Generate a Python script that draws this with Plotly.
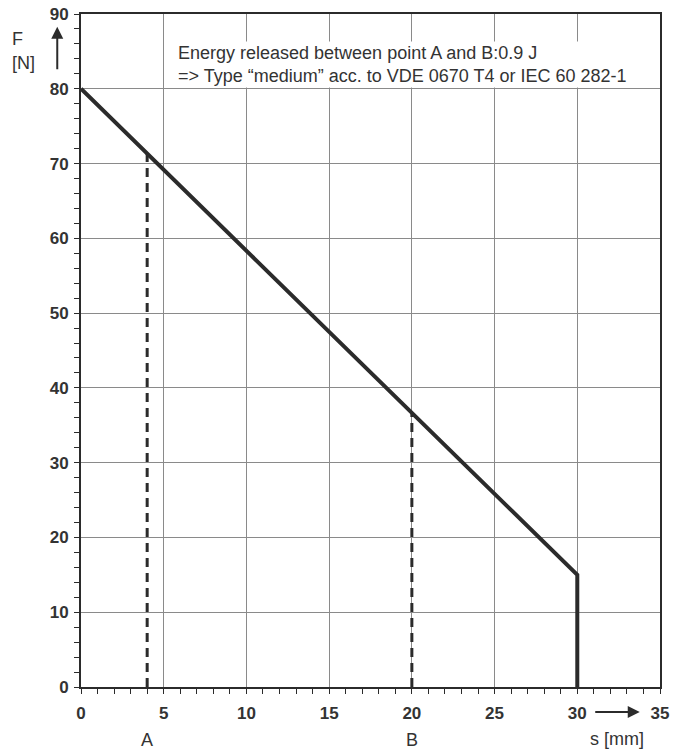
import plotly.graph_objects as go

# Data
curve_s = [0, 30, 30]          # mm
curve_F = [80, 15, 0]          # N
point_labels = ["A", "B"]
point_s = [4, 20]
point_F = [71.3, 36.7]
x_ticks = [0, 5, 10, 15, 20, 25, 30, 35]
y_ticks = [0, 10, 20, 30, 40, 50, 60, 70, 80, 90]
note_lines = ["Energy released between point A and B:0.9 J",
              "=> Type \u201cmedium\u201d acc. to VDE 0670 T4 or IEC 60 282-1"]

DARK = "#2b2b2b"
GRID = "#8a8a8a"
TXT = "#333333"
FONT = "Liberation Sans, Arial, sans-serif"

fig = go.Figure()

for s, F in zip(point_s, point_F):
    fig.add_trace(go.Scatter(x=[s, s], y=[0, F], mode="lines",
                             line=dict(color=DARK, width=3, dash="9px,6px"),
                             hoverinfo="skip", showlegend=False))

fig.add_trace(go.Scatter(x=curve_s, y=curve_F, mode="lines",
                         line=dict(color=DARK, width=4),
                         showlegend=False))

axis_common = dict(showgrid=True, gridcolor=GRID, gridwidth=1, showline=True,
                   linecolor=DARK, linewidth=2, mirror=True, ticks="outside",
                   ticklen=5, tickcolor=DARK, zeroline=False,
                   ticklabeloverflow="allow", automargin=False,
                   tickfont=dict(family=FONT, size=17, color=TXT, weight="bold"))

fig.update_layout(
    width=676, height=741,
    margin=dict(l=73, r=24, t=6, b=62, autoexpand=False),
    paper_bgcolor="white", plot_bgcolor="white",
    font=dict(family=FONT, color=TXT, size=18),
    xaxis=dict(range=[0, 35], tickvals=x_ticks, ticklabelstandoff=5,
               minor=dict(dtick=1, ticks="outside", ticklen=5, tickcolor=DARK, showgrid=False),
               **axis_common),
    yaxis=dict(range=[0, 90], tickvals=y_ticks, ticklabelstandoff=2,
               minor=dict(dtick=2, ticks="outside", ticklen=5, tickcolor=DARK, showgrid=False),
               **axis_common),
)

# Note box
fig.add_annotation(x=5.75, y=83.2, xref="x", yref="y", xanchor="left", yanchor="middle",
                   text="<br>".join(note_lines), showarrow=False, align="left",
                   bgcolor="white", borderpad=1, font=dict(size=18, color=TXT))

# Point labels under the axis
for lab, s in zip(point_labels, point_s):
    fig.add_annotation(x=s, y=-0.079, xref="x", yref="paper", text=lab, showarrow=False,
                       xanchor="center", yanchor="middle", font=dict(size=18, color=TXT))

# Axis titles
fig.add_annotation(x=-0.109, y=0.963, xref="paper", yref="paper", text="F",
                   xanchor="center", yanchor="middle",
                   showarrow=False, font=dict(size=18, color=TXT))
fig.add_annotation(x=-0.1, y=0.927, xref="paper", yref="paper", text="[N]",
                   xanchor="center", yanchor="middle",
                   showarrow=False, font=dict(size=18, color=TXT))
fig.add_annotation(x=0.925, y=-0.077, xref="paper", yref="paper", text="s [mm]",
                   xanchor="center", yanchor="middle",
                   showarrow=False, font=dict(size=18, color=TXT))

# Arrows
fig.add_annotation(x=-0.041, y=0.981, xref="paper", yref="paper", text="",
                   showarrow=True, ax=0, ay=44, arrowhead=2, arrowsize=1.2,
                   arrowwidth=2, arrowcolor=DARK)
fig.add_annotation(x=0.965, y=-0.037, xref="paper", yref="paper", text="",
                   showarrow=True, ax=-46, ay=0, arrowhead=2, arrowsize=1.2,
                   arrowwidth=2, arrowcolor=DARK)

fig.write_html("out.html")
